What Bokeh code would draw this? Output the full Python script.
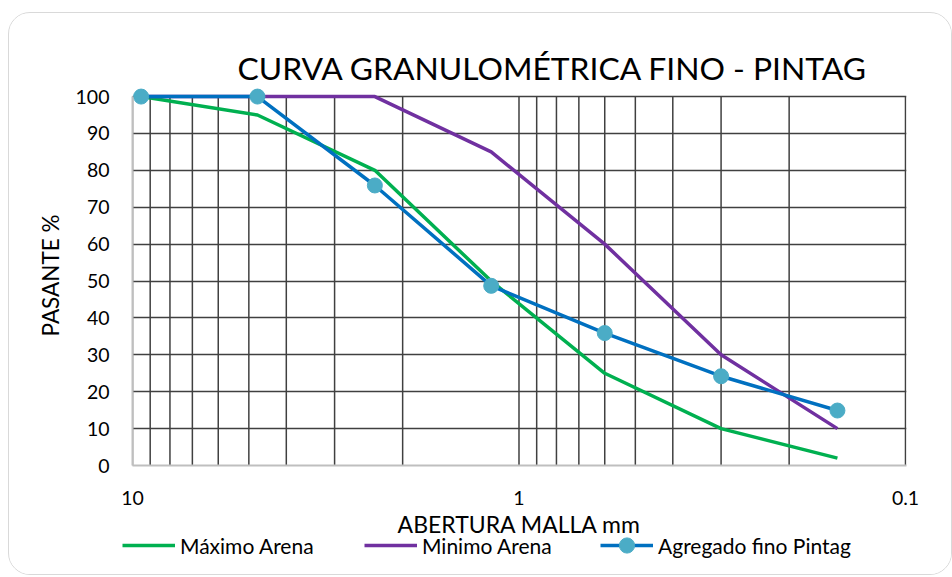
from bokeh.plotting import figure
from bokeh.models import Range1d, FixedTicker, Legend, LegendItem
from bokeh.layouts import column
from bokeh.embed import file_html
from bokeh.resources import INLINE

# Sieve openings (mm) and percent passing for each curve
sieve_mm = [9.5, 4.75, 2.36, 1.18, 0.6, 0.3, 0.15]
maximo_arena = [100, 95, 80, 50, 25, 10, 2]
minimo_arena = [100, 100, 100, 85, 60, 30, 10]
agregado_pintag = [100, 100, 75.9, 48.7, 35.9, 24.2, 14.9]

# Axis ticks and labels
x_major = [10, 1, 0.1]
x_major_labels = ["10", "1", "0.1"]
x_minor = [m * d for d in (1.0, 0.1) for m in range(2, 10)]
y_ticks = list(range(0, 101, 10))

FONT = "Lato"
GRID = "#404040"
GREEN = "#00B050"
PURPLE = "#7030A0"
BLUE = "#0070C0"
MARKER = "#4BACC6"

p = figure(
    width=942, height=561,
    x_axis_type="log",
    # a hair past 0.1 so the closing grid line is not cut by the frame
    x_range=Range1d(10, 0.0994),
    # room above 100 so the top markers are not clipped
    y_range=Range1d(0, 103),
    output_backend="svg", toolbar_location=None,
    min_border_left=123, min_border_right=45,
    min_border_top=72, min_border_bottom=109,
    background_fill_color="white", border_fill_color="white",
)
p.outline_line_color = None

# Title
p.title.text = "CURVA GRANULOMÉTRICA FINO - PINTAG"
p.title.text_font = FONT
p.title.text_font_size = "31.8px"
p.title.text_font_style = "normal"
p.title.text_color = "black"
p.title.align = "left"
p.title.offset = 105
p.title.standoff = -2

# Axes
p.xaxis.ticker = FixedTicker(ticks=x_major, minor_ticks=x_minor)
p.xaxis.major_label_overrides = dict(zip(x_major, x_major_labels))
p.yaxis.ticker = FixedTicker(ticks=y_ticks)
p.yaxis.bounds = (y_ticks[0], y_ticks[-1])
p.xaxis.axis_label = "ABERTURA MALLA mm"
p.yaxis.axis_label = "PASANTE %"
for ax in (p.xaxis[0], p.yaxis[0]):
    ax.major_tick_line_color = None
    ax.minor_tick_line_color = None
    ax.major_tick_in = 0
    ax.major_tick_out = 0
    ax.minor_tick_in = 0
    ax.minor_tick_out = 0
    ax.axis_line_color = "#BFBFBF"
    ax.axis_line_width = 2
    ax.major_label_text_font = FONT
    ax.major_label_text_font_size = "19.5px"
    ax.major_label_text_color = "black"
    ax.axis_label_text_font = FONT
    ax.axis_label_text_font_style = "normal"
    ax.axis_label_text_color = "black"
p.xaxis.axis_label_text_font_size = "23px"
p.yaxis.axis_label_text_font_size = "22.5px"
p.yaxis.major_label_standoff = 23
p.yaxis.axis_label_standoff = 9
p.xaxis.major_label_standoff = 25
p.xaxis.axis_label_standoff = 2

# Grid: horizontal lines from the y ticks, vertical log lines drawn 0..100
p.xgrid.grid_line_color = None
p.ygrid.grid_line_color = GRID
p.ygrid.grid_line_width = 1.5
grid_x = x_major + x_minor
p.segment(x0=grid_x, y0=[y_ticks[0]] * len(grid_x),
          x1=grid_x, y1=[y_ticks[-1]] * len(grid_x),
          line_color=GRID, line_width=1.5)

# Curves
line_styles = [
    dict(line_color=GREEN, line_width=3.5),
    dict(line_color=PURPLE, line_width=3.5),
    dict(line_color=BLUE, line_width=3.5),
]
marker_style = dict(size=15, fill_color=MARKER, line_color=MARKER)

p.line(sieve_mm, maximo_arena, **line_styles[0])
p.line(sieve_mm, minimo_arena, **line_styles[1])
p.line(sieve_mm, agregado_pintag, **line_styles[2])
p.scatter(sieve_mm, agregado_pintag, **marker_style)

# Key strip: a transparent row laid over the bottom of the chart. It repeats
# the series with a y range far above them, so only their legend entries show.
key = figure(
    width=942, height=38,
    x_range=Range1d(10, 0.0994), x_axis_type="log",
    y_range=Range1d(1000, 1001),
    x_axis_location=None, y_axis_location=None,
    output_backend="svg", toolbar_location=None,
    min_border=0, margin=(-48, 0, 10, 0),
    background_fill_alpha=0, border_fill_alpha=0,
)
key.outline_line_color = None
key.grid.visible = False
if "frame_align" in key.properties():
    key.frame_align = False
    key_origin = 9      # strip frame spans the full width
else:
    key_origin = 132    # strip frame lines up with the chart frame
k_max = key.line(sieve_mm, maximo_arena, **line_styles[0])
k_min = key.line(sieve_mm, minimo_arena, **line_styles[1])
k_pin = key.line(sieve_mm, agregado_pintag, **line_styles[2])
k_pts = key.scatter(sieve_mm, agregado_pintag, **marker_style)


def add_key(label, renderers, left):
    lg = Legend(
        items=[LegendItem(label=label, renderers=renderers)],
        location=(left - key_origin, 0), orientation="horizontal",
        padding=0, margin=0, spacing=0,
        border_line_color=None, background_fill_alpha=0,
        glyph_width=53, glyph_height=38, label_height=38,
        label_standoff=5,
        label_text_font=FONT, label_text_font_size="21px",
        label_text_color="black",
    )
    key.add_layout(lg)


add_key("Máximo Arena", [k_max], 122)
add_key("Minimo Arena", [k_min], 364)
add_key("Agregado fino Pintag", [k_pin, k_pts], 600)

page = column(
    p, key,
    spacing=0,
    margin=(12, 0, 0, 8),
    styles={"border": "1px solid #D9D9D9", "border-radius": "22px",
            "overflow": "hidden"},
)

with open("out.html", "w") as f:
    f.write(file_html(page, INLINE))
